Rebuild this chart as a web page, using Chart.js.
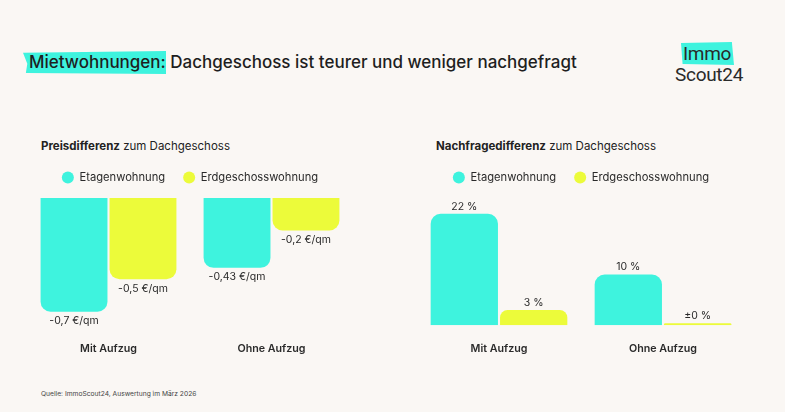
<!DOCTYPE html>
<html>
<head>
<meta charset="utf-8">
<script src="https://cdn.jsdelivr.net/npm/chart.js@4"></script>
<style>
  body { margin: 0; background: #faf7f4; font-family: Inter, sans-serif; color: #1e1e1e; }
  #page { position: relative; width: 785px; height: 412px; overflow: hidden; background: #faf7f4; }
  .abs { position: absolute; white-space: nowrap; }
  #mark { left: 23px; top: 51px; width: 143px; height: 23px; background: #3ef3de;
          clip-path: polygon(0 8%, 100% 0, 100% 100%, 2% 96%, 3% 55%); }
  #title { left: 29px; top: 51px; font-size: 17px; font-weight: 500; line-height: 23px; }
  #logoMark { left: 681px; top: 42px; width: 53px; height: 23px; background: #3ef3de;
              clip-path: polygon(0 4%, 96% 0, 100% 100%, 3% 96%); }
  .logo { font-family: Roboto, sans-serif; font-size: 19px; line-height: 21px; color: #2a2a2a; letter-spacing: -0.3px; }
  .sub { font-size: 11.5px; top: 139px; color: #222; }
  #src { left: 41px; top: 390px; font-size: 6.7px; color: #444; }
  canvas { position: absolute; }
</style>
</head>
<body>
<div id="page">
  <div id="mark" class="abs"></div>
  <div id="title" class="abs">Mietwohnungen: Dachgeschoss ist teurer und weniger nachgefragt</div>
  <div id="logoMark" class="abs"></div>
  <div class="abs logo" style="left:683px;top:43px">Immo</div>
  <div class="abs logo" style="left:675px;top:64px">Scout24</div>
  <div class="abs sub" style="left:41px"><b>Preisdifferenz</b> zum Dachgeschoss</div>
  <div class="abs sub" style="left:436px"><b>Nachfragedifferenz</b> zum Dachgeschoss</div>
  <div id="src" class="abs">Quelle: ImmoScout24, Auswertung im März 2026</div>
  <canvas id="left" style="left:0;top:150px" width="392" height="214"></canvas>
  <canvas id="right" style="left:392px;top:150px" width="393" height="214"></canvas>
</div>
<script>
const categories = ["Mit Aufzug", "Ohne Aufzug"];
const seriesNames = ["Etagenwohnung", "Erdgeschosswohnung"];

// Preisdifferenz zum Dachgeschoss, €/qm
const priceEtage = [-0.7, -0.43];
const priceErdgeschoss = [-0.5, -0.2];

// Nachfragedifferenz zum Dachgeschoss, %
const demandEtage = [22, 10];
const demandErdgeschoss = [3, 0];

const TURQ = "#3ef3de";
const YELLOW = "#ecfb3a";
const TEXT = "#2a2a2a";

function fmtPrice(v) {
  return String(v).replace(".", ",") + " €/qm";
}
function fmtPct(v) {
  return (v === 0 ? "±0" : String(v)) + " %";
}

const valueLabels = {
  id: "valueLabels",
  afterDatasetsDraw(chart, args, opts) {
    const ctx = chart.ctx;
    ctx.save();
    ctx.font = "10.5px Inter";
    ctx.fillStyle = TEXT;
    ctx.textAlign = "center";
    chart.data.datasets.forEach((ds, i) => {
      chart.getDatasetMeta(i).data.forEach((bar, j) => {
        const v = ds.data[j];
        const txt = opts.format(v);
        if (v < 0) {
          ctx.textBaseline = "top";
          ctx.fillText(txt, bar.x, bar.y + 4);
        } else {
          ctx.textBaseline = "bottom";
          ctx.fillText(txt, bar.x, bar.y - 2);
        }
      });
    });
    ctx.restore();
  }
};

function makeChart(id, a, b, yMin, yMax, fmt, pad) {
  return new Chart(document.getElementById(id), {
    type: "bar",
    data: {
      labels: categories,
      datasets: [
        { label: seriesNames[0], data: a, backgroundColor: TURQ },
        { label: seriesNames[1], data: b, backgroundColor: YELLOW }
      ]
    },
    options: {
      responsive: false,
      animation: false,
      layout: { padding: pad },
      categoryPercentage: 0.846,
      barPercentage: 0.97,
      borderRadius: 10,
      minBarLength: 2,
      scales: {
        x: {
          grid: { display: false },
          border: { display: false },
          ticks: { color: TEXT, font: { family: "Inter", size: 10.7, weight: "600" }, padding: 9 }
        },
        y: { display: false, min: yMin, max: yMax }
      },
      plugins: {
        legend: {
          labels: {
            usePointStyle: true,
            pointStyle: "circle",
            pointStyleWidth: 12,
            boxHeight: 8.5,
            padding: 18,
            color: TEXT,
            font: { family: "Inter", size: 11.2 }
          }
        },
        tooltip: { enabled: false },
        valueLabels: { format: fmt }
      }
    },
    plugins: [valueLabels]
  });
}

makeChart("left", priceEtage, priceErdgeschoss, -0.783, 0.03, fmtPrice,
  { left: 27, right: 39, top: 4, bottom: 0 });
makeChart("right", demandEtage, demandErdgeschoss, 0, 26.06, fmtPct,
  { left: 25, right: 40, top: 4, bottom: 0 });
</script>
</body>
</html>
